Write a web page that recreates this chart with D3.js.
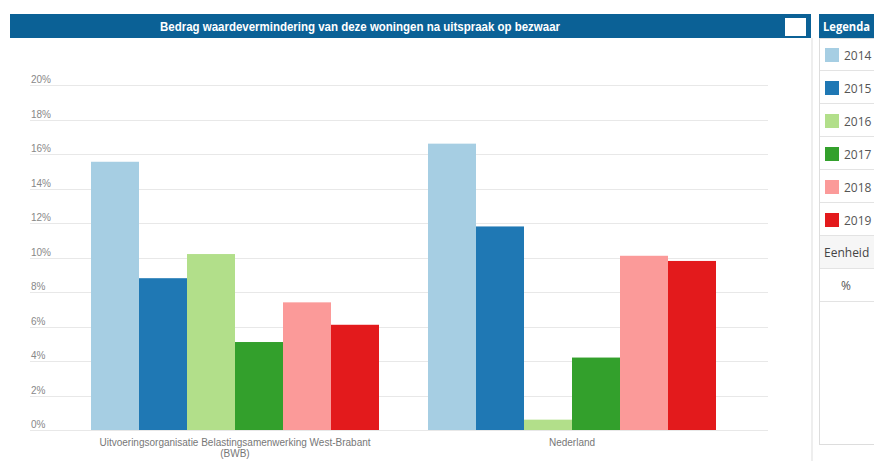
<!DOCTYPE html>
<html>
<head>
<meta charset="utf-8">
<script src="https://cdn.jsdelivr.net/npm/d3@7"></script>
<style>
  html, body { margin: 0; padding: 0; background: #fff; }
  svg { display: block; }
</style>
</head>
<body>
<svg id="chart" width="874" height="461"></svg>
<script>
const title = "Bedrag waardevermindering van deze woningen na uitspraak op bezwaar";
const categories = ["Uitvoeringsorganisatie Belastingsamenwerking West-Brabant (BWB)", "Nederland"];
const categoryLines = [["Uitvoeringsorganisatie Belastingsamenwerking West-Brabant", "(BWB)"], ["Nederland"]];
const years = ["2014", "2015", "2016", "2017", "2018", "2019"];
const values2014 = [15.55, 16.6];
const values2015 = [8.8, 11.8];
const values2016 = [10.2, 0.6];
const values2017 = [5.1, 4.2];
const values2018 = [7.4, 10.1];
const values2019 = [6.1, 9.8];
const seriesValues = [values2014, values2015, values2016, values2017, values2018, values2019];
const colors = ["#a6cee3", "#1f78b4", "#b2df8a", "#33a02c", "#fb9a99", "#e31a1c"];
const yTicks = [0, 2, 4, 6, 8, 10, 12, 14, 16, 18, 20];
const unitLabel = "Eenheid";
const unitValue = "%";

const svg = d3.select("#chart");

// Title bar
svg.append("rect").attr("x", 10).attr("y", 14).attr("width", 801).attr("height", 24).attr("fill", "#0b6196");
svg.append("rect").attr("x", 785).attr("y", 18).attr("width", 21).attr("height", 18).attr("fill", "#fff");
svg.append("text").attr("x", 360).attr("y", 30.5).attr("text-anchor", "middle")
  .attr("font-family", "Liberation Sans, Arial, sans-serif").attr("font-weight", "bold")
  .attr("font-size", 12).attr("fill", "#fff")
  .attr("textLength", 400).attr("lengthAdjust", "spacingAndGlyphs")
  .text(title);

// Separator strip between chart panel and legend
svg.append("rect").attr("x", 811).attr("y", 38).attr("width", 2).attr("height", 423).attr("fill", "#eeeeee");

// Scales
const y = d3.scaleLinear().domain([0, 20]).range([430, 85]);
const x0 = d3.scaleBand().domain(categories).range([66.5, 740.5]).paddingInner(0.1454).paddingOuter(0.0727);
const x1 = d3.scaleBand().domain(years).range([0, x0.bandwidth()]);

// Gridlines and y labels
const grid = svg.append("g");
grid.selectAll("line").data(yTicks).join("line")
  .attr("x1", 30).attr("x2", 768)
  .attr("y1", d => Math.round(y(d)) + 0.5).attr("y2", d => Math.round(y(d)) + 0.5)
  .attr("stroke", "#e8e8e8").attr("stroke-width", 1);
grid.selectAll("text").data(yTicks).join("text")
  .attr("x", 31).attr("y", d => y(d) - 2)
  .attr("font-family", "Liberation Sans, Arial, sans-serif").attr("font-size", 10)
  .attr("fill", "#888").text(d => d + "%");

// Bars
const groups = svg.append("g").selectAll("g").data(categories).join("g")
  .attr("transform", c => `translate(${x0(c)},0)`);
groups.selectAll("rect").data((c, ci) => years.map((yr, si) => ({ yr, v: seriesValues[si][ci], si })))
  .join("rect")
  .attr("x", d => x1(d.yr))
  .attr("width", x1.bandwidth())
  .attr("y", d => y(d.v))
  .attr("height", d => y(0) - y(d.v))
  .attr("fill", d => colors[d.si]);

// X labels
categories.forEach((c, i) => {
  const t = svg.append("text").attr("text-anchor", "middle")
    .attr("font-family", "Liberation Sans, Arial, sans-serif").attr("font-size", 10).attr("fill", "#777");
  categoryLines[i].forEach((ln, j) => {
    t.append("tspan").attr("x", x0(c) + x0.bandwidth() / 2).attr("y", 446 + j * 10.5).text(ln);
  });
});

// Legend panel
const lg = svg.append("g");
lg.append("rect").attr("x", 819.5).attr("y", 38.5).attr("width", 60).attr("height", 406).attr("fill", "#fff").attr("stroke", "#dddddd");
lg.append("rect").attr("x", 819).attr("y", 14).attr("width", 60).attr("height", 24).attr("fill", "#0b6196");
lg.append("text").attr("x", 823).attr("y", 30.5).attr("font-family", "Open Sans, sans-serif").attr("font-weight", "bold")
  .attr("font-size", 12).attr("fill", "#fff")
  .attr("textLength", 47).attr("lengthAdjust", "spacingAndGlyphs").text("Legenda");

const rowH = 33;
const rows = lg.selectAll("g.row").data(years).join("g").attr("class", "row")
  .attr("transform", (d, i) => `translate(0,${38 + i * rowH})`);
rows.append("line").attr("x1", 820).attr("x2", 874).attr("y1", rowH - 0.5).attr("y2", rowH - 0.5).attr("stroke", "#e3e3e3");
rows.append("rect").attr("x", 825).attr("y", 10).attr("width", 14).attr("height", 14).attr("fill", (d, i) => colors[i]);
rows.append("text").attr("x", 844).attr("y", 21.5).attr("font-family", "Open Sans, sans-serif").attr("font-size", 12)
  .attr("fill", "#555").text(d => d);

const unitY = 38 + years.length * rowH;
lg.append("rect").attr("x", 820).attr("y", unitY).attr("width", 54).attr("height", rowH - 0.5).attr("fill", "#f6f6f6");
lg.append("line").attr("x1", 820).attr("x2", 874).attr("y1", unitY + rowH - 0.5).attr("y2", unitY + rowH - 0.5).attr("stroke", "#e3e3e3");
lg.append("text").attr("x", 824).attr("y", unitY + 21).attr("font-family", "Open Sans, sans-serif").attr("font-size", 12)
  .attr("fill", "#444").text(unitLabel);
lg.append("line").attr("x1", 820).attr("x2", 874).attr("y1", unitY + 2 * rowH - 0.5).attr("y2", unitY + 2 * rowH - 0.5).attr("stroke", "#e3e3e3");
lg.append("text").attr("x", 846).attr("y", unitY + rowH + 21).attr("text-anchor", "middle").attr("font-family", "Open Sans, sans-serif").attr("font-size", 12)
  .attr("fill", "#555").text(unitValue);
</script>
</body>
</html>
